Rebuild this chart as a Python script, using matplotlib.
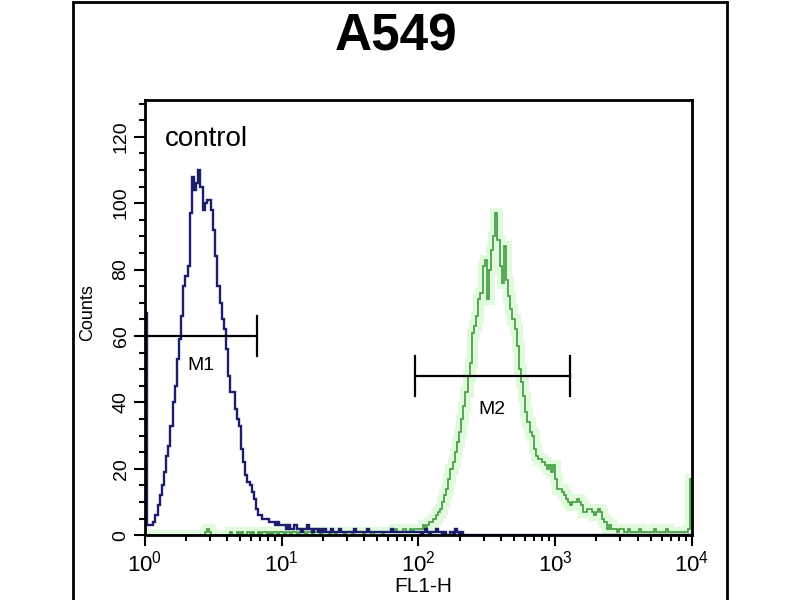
import numpy as np
import matplotlib
matplotlib.use('Agg')
import matplotlib.pyplot as plt
from matplotlib.patches import Rectangle
from matplotlib.ticker import FixedLocator, LogLocator, NullFormatter

plt.rcParams['font.family'] = 'Liberation Sans'
plt.rcParams['mathtext.fontset'] = 'custom'
plt.rcParams['mathtext.rm'] = 'Liberation Sans'
plt.rcParams['mathtext.it'] = 'Liberation Sans:italic'
plt.rcParams['mathtext.bf'] = 'Liberation Sans:bold'

# datos (256 canales, 64 canales por decada)
titulo = 'A549'
etiqueta_x = 'FL1-H'
etiqueta_y = 'Counts'
n_canales = 256
canales_por_decada = 64

control = [
    67, 3, 3, 3, 4, 6, 9, 12, 15, 19, 24, 27, 33, 40, 45, 53,
    59, 66, 75, 78, 81, 97, 108, 104, 106, 110, 105, 98, 100, 101, 101, 98,
    92, 84, 75, 70, 65, 62, 56, 48, 43, 43, 38, 35, 33, 26, 22, 18,
    16, 15, 13, 11, 8, 6, 6, 5, 5, 5, 4, 4, 4, 3, 4, 3,
    3, 3, 2, 3, 2, 2, 3, 2, 2, 1, 2, 2, 3, 2, 1, 2,
    2, 1, 2, 1, 2, 1, 1, 2, 1, 1, 1, 2, 1, 1, 1, 1,
    1, 1, 2, 1, 1, 1, 1, 1, 2, 1, 1, 1, 1, 1, 1, 1,
    1, 1, 1, 2, 1, 1, 1, 1, 1, 1, 1, 1, 1, 1, 1, 1,
    1, 0, 1, 2, 1, 0, 1, 1, 2, 1, 1, 0, 1, 0, 0, 1,
    0, 2, 1, 0, 1, 0, 0, 0, 0, 0, 0, 0, 0, 0, 0, 0,
    0, 0, 0, 0, 0, 0, 0, 0, 0, 0, 0, 0, 0, 0, 0, 0,
    0, 0, 0, 0, 0, 0, 0, 0, 0, 0, 0, 0, 0, 0, 0, 0,
    0, 0, 0, 0, 0, 0, 0, 0, 0, 0, 0, 0, 0, 0, 0, 0,
    0, 0, 0, 0, 0, 0, 0, 0, 0, 0, 0, 0, 0, 0, 0, 0,
    0, 0, 0, 0, 0, 0, 0, 0, 0, 0, 0, 0, 0, 0, 0, 0,
    0, 0, 0, 0, 0, 0, 0, 0, 0, 0, 0, 0, 0, 0, 0, 0,
]

muestra = [
    0, 0, 0, 0, 0, 0, 0, 0, 0, 0, 0, 0, 0, 0, 0, 0,
    0, 0, 0, 0, 0, 0, 0, 0, 0, 0, 0, 0, 1, 2, 1, 0,
    0, 0, 0, 0, 0, 0, 0, 0, 1, 0, 0, 1, 0, 1, 0, 0,
    1, 0, 1, 0, 0, 1, 0, 1, 1, 0, 1, 0, 1, 1, 0, 1,
    1, 0, 1, 1, 0, 1, 1, 0, 1, 1, 1, 0, 1, 1, 0, 1,
    1, 1, 0, 1, 1, 1, 0, 1, 1, 0, 1, 1, 1, 0, 1, 1,
    1, 0, 1, 1, 1, 1, 0, 1, 1, 1, 0, 1, 1, 1, 1, 0,
    1, 1, 1, 1, 1, 2, 1, 1, 1, 2, 1, 1, 2, 1, 2, 2,
    2, 2, 3, 2, 3, 4, 4, 5, 6, 7, 8, 10, 12, 14, 17, 20,
    22, 25, 28, 31, 35, 39, 43, 48, 52, 61, 63, 66, 71, 73, 81, 83,
    71, 80, 86, 90, 97, 89, 81, 76, 87, 77, 72, 68, 65, 62, 57, 50,
    46, 42, 37, 34, 31, 30, 26, 24, 23, 23, 22, 21, 20, 21, 19, 21,
    17, 14, 14, 13, 12, 11, 10, 9, 10, 10, 11, 10, 9, 7, 7, 8,
    8, 7, 6, 7, 8, 7, 5, 4, 2, 3, 2, 2, 2, 1, 2, 2,
    1, 1, 2, 1, 1, 1, 1, 2, 1, 1, 1, 1, 1, 1, 2, 1,
    1, 1, 1, 1, 2, 1, 1, 1, 1, 1, 1, 1, 1, 1, 2, 17,
]

# marcadores M1 y M2 (inicio, fin, nivel)
m1 = (1, 6.6, 60)
m2 = (94, 1280, 48)

x_ticks = [1, 10, 100, 1000, 10000]
x_tick_labels = [r'$\mathregular{10^0}$', r'$\mathregular{10^1}$', r'$\mathregular{10^2}$',
                 r'$\mathregular{10^3}$', r'$\mathregular{10^4}$']
y_ticks = [0, 20, 40, 60, 80, 100, 120]

bordes = 10 ** (np.arange(n_canales + 1) / canales_por_decada)

fig = plt.figure(figsize=(8, 6), dpi=100)
ax = fig.add_axes([0.181, 0.108, 0.684, 0.725])

# histograma verde con halo
ax.stairs(muestra, bordes, color='#9cf092', lw=8, alpha=0.3, baseline=0)
ax.stairs(muestra, bordes, color='#3e9c3e', lw=1.2, baseline=0)
ax.stairs(control, bordes, color='#1d1d6e', lw=1.7, baseline=0)

for ini, fin, nivel in (m1, m2):
    ax.plot([ini, fin], [nivel, nivel], color='black', lw=1.6)
    ax.plot([ini, ini], [nivel - 6, nivel + 6], color='black', lw=1.6)
    ax.plot([fin, fin], [nivel - 6, nivel + 6], color='black', lw=1.6)

ax.text(2.57, 51, 'M1', fontsize=14, ha='center', va='center')
ax.text(345, 38, 'M2', fontsize=14, ha='center', va='center')
ax.text(0.037, 0.91, 'control', fontsize=20, ha='left', va='center', transform=ax.transAxes)

ax.set_xscale('log')
ax.set_xlim(1, 10000)
ax.set_ylim(0, 131)
ax.set_xticks(x_ticks)
ax.set_xticklabels(x_tick_labels, fontsize=16)
ax.xaxis.set_minor_locator(LogLocator(base=10, subs=np.arange(2, 10)))
ax.xaxis.set_minor_formatter(NullFormatter())
ax.set_yticks(y_ticks)
ax.set_yticklabels([str(v) for v in y_ticks], fontsize=14, rotation=90, va='center')
ax.yaxis.set_minor_locator(FixedLocator(np.arange(0, 131, 5)))
ax.tick_params(which='major', direction='out', length=8, width=1.5, pad=3)
ax.tick_params(which='minor', direction='out', length=4, width=1.5)
for sp in ax.spines.values():
    sp.set_linewidth(2)

fig.text(0.495, 1 - 37 / 600, titulo, fontsize=37, fontweight='bold', ha='center', va='center')
fig.text(88 / 800, 1 - 313 / 600, etiqueta_y, fontsize=13, rotation=90, ha='center', va='center')
fig.text(423 / 800, 1 - 587 / 600, etiqueta_x, fontsize=15, ha='center', va='center')

fig.add_artist(Rectangle((73 / 800, -0.05), 654 / 800, 1.047, transform=fig.transFigure,
                         fill=False, edgecolor='black', lw=2))

fig.savefig('out.png', dpi=100)
